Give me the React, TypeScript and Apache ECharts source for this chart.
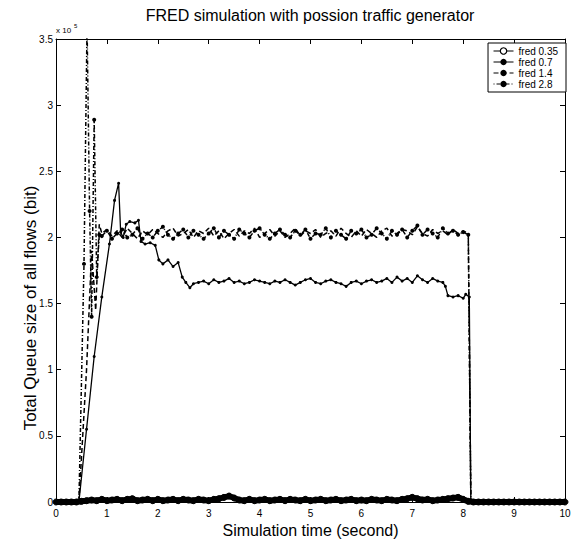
import React, { useEffect, useRef } from "react";
import * as echarts from "echarts";

const FONT = "'Liberation Sans', Arial, Helvetica, sans-serif";

const chartTitle = "FRED simulation with possion traffic generator";
const xAxisName = "Simulation time (second)";
const yAxisName = "Total Queue size of all flows (bit)";
const seriesNames = ["fred 0.35", "fred 0.7", "fred 1.4", "fred 2.8"];
const xRange = [0, 10];
const yRange = [0, 3.5];

// fred 0.35 : sampled every 0.1 s from 0 to 10 (units of 1e5 bit)
const fred035Start = 0;
const fred035Step = 0.1;
const fred035Values = [
  0, 0, 0, 0, 0, 0.005, 0.01, 0.015, 0.01, 0.02,
  0.01, 0.015, 0.02, 0.01, 0.02, 0.025, 0.01, 0.015, 0.02, 0.01,
  0.02, 0.01, 0.015, 0.02, 0.01, 0.02, 0.015, 0.01, 0.02, 0.015,
  0.01, 0.02, 0.025, 0.035, 0.045, 0.03, 0.015, 0.01, 0.02, 0.01,
  0.015, 0.02, 0.01, 0.015, 0.02, 0.01, 0.02, 0.015, 0.01, 0.02,
  0.01, 0.015, 0.02, 0.01, 0.015, 0.02, 0.01, 0.015, 0.02, 0.01,
  0.015, 0.01, 0.02, 0.015, 0.01, 0.02, 0.015, 0.01, 0.02, 0.025,
  0.035, 0.025, 0.015, 0.02, 0.01, 0.015, 0.02, 0.025, 0.03, 0.035,
  0.02, 0.005, 0, 0, 0, 0, 0, 0, 0, 0,
  0, 0, 0, 0, 0, 0, 0, 0, 0, 0, 0,
];

// fred 0.7
const fred07Rise: [number, number][] = [
  [0, 0], [0.45, 0], [0.6, 0.55], [0.75, 1.1], [0.9, 1.55], [1.05, 1.95],
  [1.15, 2.28], [1.23, 2.41], [1.27, 2.04], [1.32, 2.0], [1.38, 2.1],
  [1.45, 2.12], [1.55, 2.11], [1.62, 2.13], [1.67, 1.97], [1.75, 1.95],
  [1.85, 1.96], [1.95, 1.94], [2.02, 1.83], [2.1, 1.8], [2.2, 1.83],
  [2.3, 1.78], [2.4, 1.81], [2.48, 1.7], [2.55, 1.66], [2.63, 1.62], [2.7, 1.65],
];
const fred07PlateauStart = 2.8;
const fred07PlateauStep = 0.1;
const fred07Plateau = [
  1.66, 1.67, 1.65, 1.68, 1.66, 1.67, 1.69, 1.66, 1.67, 1.65,
  1.66, 1.68, 1.67, 1.66, 1.65, 1.67, 1.66, 1.68, 1.66, 1.64,
  1.66, 1.68, 1.69, 1.66, 1.65, 1.67, 1.68, 1.66, 1.65, 1.63,
  1.66, 1.67, 1.65, 1.67, 1.68, 1.66, 1.67, 1.69, 1.66, 1.7,
  1.67, 1.69, 1.66, 1.71, 1.68, 1.66, 1.69, 1.67, 1.66,
];
const fred07Tail: [number, number][] = [
  [7.65, 1.63], [7.7, 1.56], [7.8, 1.55], [7.9, 1.56], [8.0, 1.54],
  [8.05, 1.57], [8.12, 1.55], [8.15, 0], [10, 0],
];

// fred 1.4
const fred14Rise: [number, number][] = [
  [0, 0], [0.45, 0], [0.6, 1.0], [0.7, 1.9], [0.78, 1.45], [0.85, 2.1],
];
const fred14BandStart = 0.9;
const fred14BandStep = 0.1;
const fred14Band = [
  2.03, 2.06, 2.01, 2.05, 2.0, 2.07, 2.03, 1.99, 2.05, 2.02,
  2.06, 2.03, 2.0, 2.05, 2.07, 2.01, 2.03, 2.06, 2.0, 2.05,
  2.03, 2.07, 2.01, 2.05, 1.99, 2.03, 2.06, 2.01, 2.05, 2.03,
  2.07, 2.0, 2.03, 2.06, 2.01, 2.05, 2.0, 2.03, 2.07, 2.01,
  2.05, 2.03, 2.06, 2.0, 2.03, 2.05, 2.01, 2.07, 2.03, 2.0,
  2.05, 2.01, 2.06, 2.03, 2.0, 2.05, 2.07, 2.01, 2.03, 2.06,
  2.05, 2.02, 2.08, 2.03, 2.01, 2.06, 2.03, 2.05, 2.02, 2.06,
  2.03, 2.05, 2.03,
];
const fred14Tail: [number, number][] = [[8.15, 0], [10, 0]];

// fred 2.8
const fred28Rise: [number, number][] = [
  [0, 0], [0.45, 0], [0.55, 1.8], [0.61, 3.6], [0.66, 2.2], [0.7, 1.4],
  [0.75, 2.89], [0.8, 1.7], [0.85, 2.02],
];
const fred28BandStart = 0.9;
const fred28BandStep = 0.1;
const fred28Band = [
  2.01, 2.05, 1.99, 2.03, 2.06, 2.0, 2.02, 2.07, 1.99, 2.03,
  2.0, 2.05, 2.08, 2.02, 1.99, 2.03, 2.06, 2.0, 2.05, 2.02,
  1.99, 2.03, 2.07, 2.0, 2.05, 2.02, 1.99, 2.06, 2.03, 2.0,
  2.05, 2.07, 2.02, 1.99, 2.03, 2.06, 2.02, 2.0, 2.05, 2.02,
  2.06, 1.99, 2.03, 2.02, 2.07, 2.0, 2.05, 2.02, 1.99, 2.05,
  2.03, 2.06, 2.0, 2.02, 2.07, 2.03, 1.99, 2.05, 2.02, 2.06,
  2.0, 2.05, 2.09, 2.02, 2.06, 2.03, 2.0, 2.07, 2.03, 2.05,
  2.02, 2.04, 2.02,
];
const fred28Tail: [number, number][] = [[8.15, 0], [10, 0]];

function sampled(start: number, step: number, values: number[]): [number, number][] {
  return values.map((v, i) => [Math.round((start + i * step) * 1000) / 1000, v]);
}

const fred035Data = sampled(fred035Start, fred035Step, fred035Values);
const fred07Data = [...fred07Rise, ...sampled(fred07PlateauStart, fred07PlateauStep, fred07Plateau), ...fred07Tail];
const fred14Data = [...fred14Rise, ...sampled(fred14BandStart, fred14BandStep, fred14Band), ...fred14Tail];
const fred28Data = [...fred28Rise, ...sampled(fred28BandStart, fred28BandStep, fred28Band), ...fred28Tail];

export default function App() {
  const ref = useRef<HTMLDivElement>(null);
  useEffect(() => {
    if (!ref.current) return;
    const chart = echarts.init(ref.current, null, { renderer: "svg" });
    const axisLine = { show: true, onZero: false, lineStyle: { color: "#000", width: 1 } };
    const axisTick = { show: true, inside: true, length: 5, lineStyle: { color: "#000", width: 1 } };
    const label = { color: "#000", fontSize: 10, fontFamily: FONT };
    const option: any = {
      animation: false,
      backgroundColor: "#fff",
      textStyle: { fontFamily: FONT },
      grid: { left: 56, right: 13, top: 39, bottom: 42 },
      xAxis: [
        {
          type: "value", min: xRange[0], max: xRange[1], interval: 1, position: "bottom",
          axisLine, axisTick, splitLine: { show: false },
          axisLabel: { ...label, margin: 6 },
          name: xAxisName, nameLocation: "middle", nameGap: 18,
          nameTextStyle: { fontSize: 16, color: "#000", fontFamily: FONT },
        },
        {
          type: "value", min: xRange[0], max: xRange[1], interval: 1, position: "top",
          axisLine, axisTick, splitLine: { show: false }, axisLabel: { show: false },
        },
      ],
      yAxis: [
        {
          type: "value", min: yRange[0], max: yRange[1], interval: 0.5, position: "left",
          axisLine, axisTick, splitLine: { show: false },
          axisLabel: { ...label, margin: 3 },
        },
        {
          type: "value", min: yRange[0], max: yRange[1], interval: 0.5, position: "right",
          axisLine, axisTick, splitLine: { show: false }, axisLabel: { show: false },
        },
      ],
      legend: {
        orient: "vertical",
        right: 12,
        top: 43,
        backgroundColor: "#fff",
        borderColor: "#000",
        borderWidth: 1,
        borderRadius: 0,
        padding: [3, 8, 3, 5],
        itemWidth: 20,
        itemHeight: 8,
        itemGap: 1,
        textStyle: { fontSize: 10, color: "#000", fontFamily: FONT, lineHeight: 10 },
        data: [
          { name: seriesNames[0], itemStyle: { color: "#fff", borderColor: "#000", borderWidth: 1.2 }, lineStyle: { width: 1 } },
          { name: seriesNames[1], lineStyle: { width: 1 } },
          { name: seriesNames[2], lineStyle: { width: 1 } },
          { name: seriesNames[3], lineStyle: { width: 1 } },
        ],
      },
      graphic: [
        {
          type: "text", x: 310, y: 15,
          style: { text: chartTitle, fill: "#000", font: `16px ${FONT}`, textAlign: "center", textVerticalAlign: "middle" },
        },
        {
          type: "text", x: 30, y: 308, rotation: Math.PI / 2,
          style: { text: yAxisName, fill: "#000", font: `17px ${FONT}`, textAlign: "center", textVerticalAlign: "middle" },
        },
        {
          type: "text", x: 56, y: 30,
          style: { text: "x 10", fill: "#000", font: `8px ${FONT}`, textAlign: "left", textVerticalAlign: "middle" },
        },
        {
          type: "text", x: 74, y: 26,
          style: { text: "5", fill: "#000", font: `6px ${FONT}`, textAlign: "left", textVerticalAlign: "middle" },
        },
      ],
      series: [
        {
          name: seriesNames[0], type: "line", data: fred035Data,
          symbol: "circle", symbolSize: 6, showAllSymbol: true,
          lineStyle: { color: "#000", width: 6 },
          itemStyle: { color: "#000", borderColor: "#000", borderWidth: 1 },
          z: 3,
        },
        {
          name: seriesNames[1], type: "line", data: fred07Data,
          symbol: "circle", symbolSize: 3, showAllSymbol: true,
          lineStyle: { color: "#000", width: 1.3 },
          itemStyle: { color: "#000" },
        },
        {
          name: seriesNames[2], type: "line", data: fred14Data,
          symbol: "none",
          lineStyle: { color: "#000", width: 1.5, type: [5, 3] },
          itemStyle: { color: "#000" },
        },
        {
          name: seriesNames[3], type: "line", data: fred28Data,
          symbol: "circle", symbolSize: 4, showAllSymbol: true,
          lineStyle: { color: "#000", width: 1.5, type: [1, 2, 4, 2] },
          itemStyle: { color: "#000" },
        },
      ],
    };
    chart.setOption(option);
    return () => chart.dispose();
  }, []);
  return <div ref={ref} style={{ width: 578, height: 544, position: "absolute", left: 0, top: 0, background: "#fff" }} />;
}
